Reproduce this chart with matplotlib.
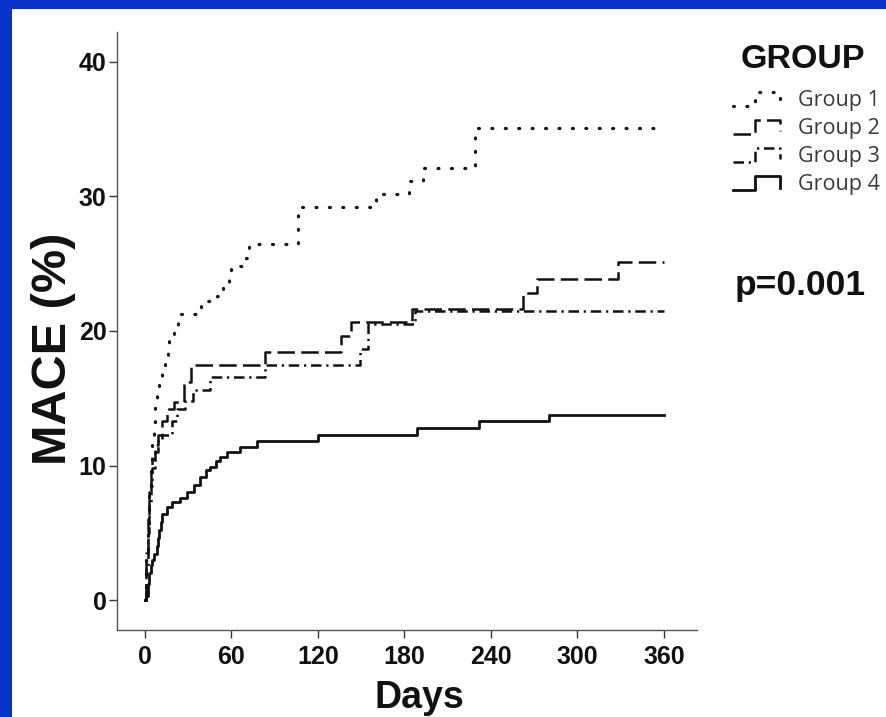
"""
Cumulative MACE by group (Kaplan-Meier style step curves), slide-style blue frame.
"""

import matplotlib
matplotlib.use('Agg')
import numpy as np
import matplotlib.pyplot as plt
from matplotlib.lines import Line2D
from matplotlib.patches import Rectangle
from matplotlib.legend_handler import HandlerLine2D

# ── Data ──────────────────────────────────────────────────────
g1_days = [0, 1, 2, 3, 4, 5, 6, 7, 8, 10, 12, 14, 16, 17, 20, 23, 25, 39, 50, 54,
           58, 60, 70, 72, 106, 160, 183, 193, 229, 360]
g1_mace = [0, 3, 5.5, 8, 10, 11.5, 13.2, 14.9, 15.8, 16.5, 17.2, 18.1, 18.8, 19.6,
           20.3, 20.9, 21.3, 22.2, 22.6, 23.4, 23.9, 24.8, 25.4, 26.5, 29.2, 30.2,
           31.15, 32.1, 35.1, 35.1]

g2_days = [0, 1, 2, 3, 4, 5, 7, 9, 12, 15, 20, 27, 32, 83, 136, 143, 185, 262,
           272, 328, 360]
g2_mace = [0, 3.5, 6, 8, 9.5, 10.5, 11.5, 12.3, 13.3, 14.2, 14.7, 16.2, 17.47,
           18.46, 19.6, 20.67, 21.65, 22.85, 23.9, 25.1, 25.1]

g3_days = [0, 1, 2, 3, 4, 5, 7, 9, 12, 19, 22, 28, 33, 45, 83, 149, 155, 187, 360]
g3_mace = [0, 2.5, 5, 7, 8.5, 9.8, 11, 11.8, 12.3, 13.3, 14.2, 14.8, 15.6, 16.6,
           17.47, 18.65, 20.5, 21.5, 21.5]

g4_days = [0, 1, 2, 3, 4, 5, 6, 8, 9, 10, 11, 12, 15, 19, 24, 29, 34, 38, 42, 45,
           49, 52, 57, 66, 78, 120, 189, 232, 280, 360]
g4_mace = [0, 0.3, 1.2, 2.0, 2.6, 3.0, 3.4, 4.0, 4.6, 5.2, 5.8, 6.4, 6.9, 7.3,
           7.55, 8.05, 8.55, 9.17, 9.67, 9.9, 10.3, 10.6, 11.0, 11.4, 11.85,
           12.27, 12.8, 13.33, 13.75, 13.75]

labels = ['Group 1', 'Group 2', 'Group 3', 'Group 4']
x_ticks = [0, 60, 120, 180, 240, 300, 360]
y_ticks = [0, 10, 20, 30, 40]

# ── Style ─────────────────────────────────────────────────────
INK = '#111111'
BLUE = '#0833c9'
BOLD = 'Liberation Sans'

styles = [
    dict(lw=2.3, ls=(0, (0.3, 3.9)), dash_capstyle='round'),        # dotted
    dict(lw=1.8, ls=(0, (7.0, 2.5))),                               # dashed
    dict(lw=1.8, ls=(0, (4.2, 1.9, 0.9, 1.9))),                     # dash-dot
    dict(lw=2.0, ls='-'),                                           # solid
]


class StepHandler(HandlerLine2D):
    """Little step symbol like the SPSS survival-plot legend."""
    def create_artists(self, legend, orig_handle, xdescent, ydescent,
                       width, height, fontsize, trans):
        fx = np.array([0.0, 0.40, 0.40, 0.85, 0.85])
        fy = np.array([0.05, 0.05, 0.9, 0.9, 0.2])
        line = Line2D(fx * width - xdescent, fy * height - ydescent)
        self.update_prop(line, orig_handle, legend)
        line.set_transform(trans)
        return [line]


# ── Figure ────────────────────────────────────────────────────
fig = plt.figure(figsize=(8.86, 7.17), dpi=100, facecolor='white')
fig.add_artist(Rectangle((0, 0), 12 / 886, 1, transform=fig.transFigure,
                         facecolor=BLUE, edgecolor='none', zorder=0))
fig.add_artist(Rectangle((0, 1 - 9 / 717), 1, 9 / 717, transform=fig.transFigure,
                         facecolor=BLUE, edgecolor='none', zorder=0))

ax = fig.add_axes([117 / 886, 1 - 630 / 717, 580 / 886, 598 / 717])
ax.set_facecolor('none')

series = [(g1_days, g1_mace), (g2_days, g2_mace), (g3_days, g3_mace), (g4_days, g4_mace)]
handles = []
for (d, m), st, lab in zip(series, styles, labels):
    h, = ax.plot(d, m, drawstyle='steps-post', color=INK, label=lab, **st)
    handles.append(h)

ax.set_xlim(-19.4, 382.9)
ax.set_ylim(-2.23, 42.23)
ax.set_xticks(x_ticks)
ax.set_yticks(y_ticks)

for s in ['top', 'right']:
    ax.spines[s].set_visible(False)
for s in ['left', 'bottom']:
    ax.spines[s].set_color('#555555')
    ax.spines[s].set_linewidth(1.0)

ax.tick_params(axis='both', direction='out', length=6, width=1.0, color='#333333',
               labelsize=18, labelcolor=INK)
ax.tick_params(axis='x', pad=5)
ax.tick_params(axis='y', pad=1.5)
for t in ax.get_xticklabels() + ax.get_yticklabels():
    t.set_fontfamily(BOLD)
    t.set_fontweight('bold')

ax.set_xlabel('Days', fontsize=27, fontweight='bold', family=BOLD, color=INK)
ax.xaxis.set_label_coords(0.522, -0.083)
ax.set_ylabel('MACE (%)', fontsize=35, fontweight='bold', family=BOLD, color=INK)
ax.yaxis.set_label_coords(-0.07, 0.47)

# ── Legend + p-value ──────────────────────────────────────────
fig.text(741 / 886, 1 - 59 / 717, 'GROUP', fontsize=24.5, fontweight='bold',
         family=BOLD, color=INK, va='center', ha='left')

leg = fig.legend(handles=handles, labels=labels, loc='upper left',
                 bbox_to_anchor=(733 / 886, 1 - 90 / 717), frameon=False,
                 prop={'family': 'Open Sans', 'size': 15.5},
                 handlelength=2.55, handleheight=0.75, handletextpad=0.45,
                 labelspacing=0.33, borderaxespad=0, borderpad=0,
                 handler_map={Line2D: StepHandler()})
for t in leg.get_texts():
    t.set_color('#3a3a3a')

fig.text(735 / 886, 1 - 285 / 717, 'p=0.001', fontsize=25.5, fontweight='bold',
         family=BOLD, color=INK, va='center', ha='left')

fig.savefig('out.png', dpi=100, facecolor='white')
